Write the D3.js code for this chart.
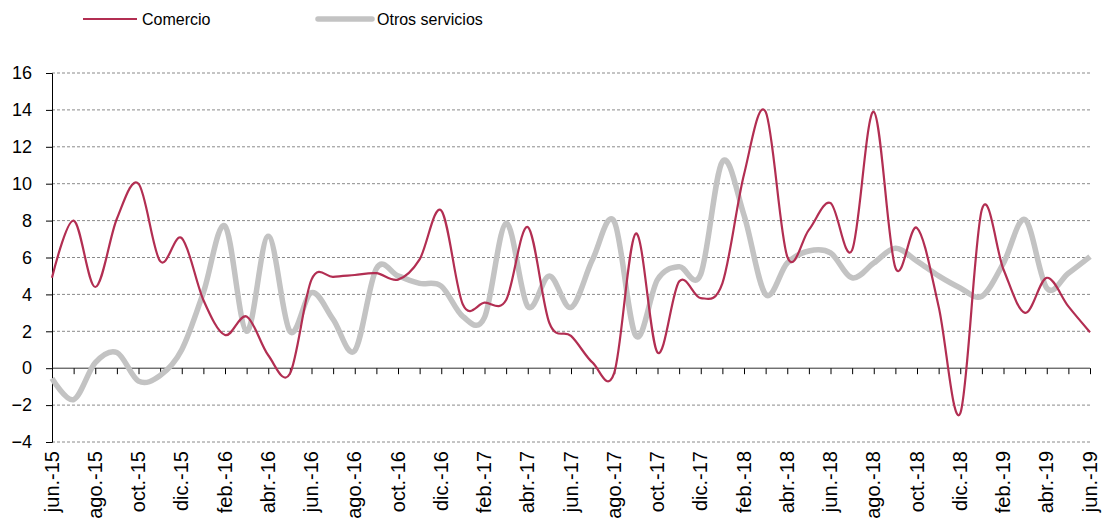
<!DOCTYPE html>
<html><head><meta charset="utf-8">
<script src="https://cdn.jsdelivr.net/npm/d3@7"></script>
<style>body{margin:0;background:#fff}svg{display:block}</style>
</head><body>
<svg id="c" width="1103" height="521"></svg>
<script>
const months = ["jun.","jul.","ago.","sep.","oct.","nov.","dic.","ene.","feb.","mar.","abr.","may."];
const categories = [];
for (let i = 0; i < 49; i++) {
  const m = months[i % 12];
  const yr = 15 + Math.floor((i + 5) / 12);
  categories.push(m + "-" + yr);
}
const comercio = [4.9,8.0,4.4,8.1,10.0,5.8,7.05,3.7,1.8,2.8,0.7,-0.3,4.8,4.95,5.05,5.15,4.8,5.9,8.55,3.45,3.55,3.7,7.65,2.45,1.75,0.3,-0.25,7.3,0.85,4.7,3.8,4.6,10.5,13.9,6.05,7.5,8.95,6.4,13.9,5.45,7.6,3.35,-2.45,8.6,5.35,3.0,4.9,3.35,1.95];
const otros = [-0.55,-1.7,0.3,0.85,-0.7,-0.4,1.0,4.1,7.7,2.0,7.15,2.0,4.1,2.65,0.95,5.4,5.0,4.6,4.45,2.8,2.75,7.85,3.35,5.0,3.3,5.9,7.95,1.75,4.8,5.5,5.1,11.2,8.3,4.0,5.7,6.35,6.25,4.9,5.7,6.5,5.8,5.0,4.35,3.9,5.7,8.05,4.35,5.15,6.05];
const yTicks = [-4,-2,0,2,4,6,8,10,12,14,16];
const seriesNames = ["Comercio","Otros servicios"];

const svg = d3.select("#c");
const x = d3.scalePoint().domain(categories).range([52,1090]);
const y = d3.scaleLinear().domain([-4,16]).range([442,73]);
const font = "Arial, 'Liberation Sans', sans-serif";

// gridlines
svg.append("g").selectAll("line").data(yTicks.filter(d=>d!==0)).join("line")
  .attr("x1",52).attr("x2",1090).attr("y1",d=>y(d)).attr("y2",d=>y(d))
  .attr("stroke","#8a8a8a").attr("stroke-width",1).attr("stroke-dasharray","3,2");

// y axis
const yAxis = svg.append("g").attr("transform","translate(52,0)")
  .call(d3.axisLeft(y).tickValues(yTicks).tickSize(6).tickPadding(14).tickFormat(d3.format("d")));
yAxis.selectAll("path,line").attr("stroke","#000");
yAxis.selectAll("text").attr("font-family",font).attr("font-size",18).attr("fill","#000");

// zero axis with month ticks
const xAxis = svg.append("g").attr("transform",`translate(0,${y(0)})`)
  .call(d3.axisBottom(x).tickValues(categories).tickSize(6).tickFormat(""));
xAxis.select(".domain").attr("stroke","#303030").attr("d",`M52,0H1090`);
xAxis.selectAll("line").attr("stroke","#000");

// x labels
const xl = svg.append("g").attr("transform","translate(0,451)")
  .call(d3.axisBottom(x).tickValues(categories.filter((d,i)=>i%2===0)).tickSize(0));
xl.select(".domain").remove();
xl.selectAll("text").attr("font-family",font).attr("font-size",20).attr("fill","#000")
  .attr("text-anchor","end").attr("transform","rotate(-90)").attr("x",0).attr("y",0).attr("dx",0).attr("dy","0.3em");

const line = d3.line().x((d,i)=>x(categories[i])).y(d=>y(d)).curve(d3.curveCatmullRom.alpha(0));
svg.append("path").datum(otros).attr("d",line).attr("fill","none")
  .attr("stroke","#c3c3c3").attr("stroke-width",5.5).attr("stroke-linejoin","round");
svg.append("path").datum(comercio).attr("d",line).attr("fill","none")
  .attr("stroke","#b22e52").attr("stroke-width",2.2).attr("stroke-linejoin","round");

// legend
const lg = svg.append("g");
lg.append("line").attr("x1",83).attr("x2",137).attr("y1",19).attr("y2",19).attr("stroke","#b22e52").attr("stroke-width",2.2);
lg.append("text").attr("x",142).attr("y",19).attr("dy","0.35em").text(seriesNames[0])
  .attr("font-family",font).attr("font-size",16).attr("fill","#000");
lg.append("line").attr("x1",318).attr("x2",372).attr("y1",19).attr("y2",19).attr("stroke","#c3c3c3").attr("stroke-width",5.5).attr("stroke-linecap","round");
lg.append("text").attr("x",377).attr("y",19).attr("dy","0.35em").text(seriesNames[1])
  .attr("font-family",font).attr("font-size",16).attr("fill","#000");
</script>
</body></html>
